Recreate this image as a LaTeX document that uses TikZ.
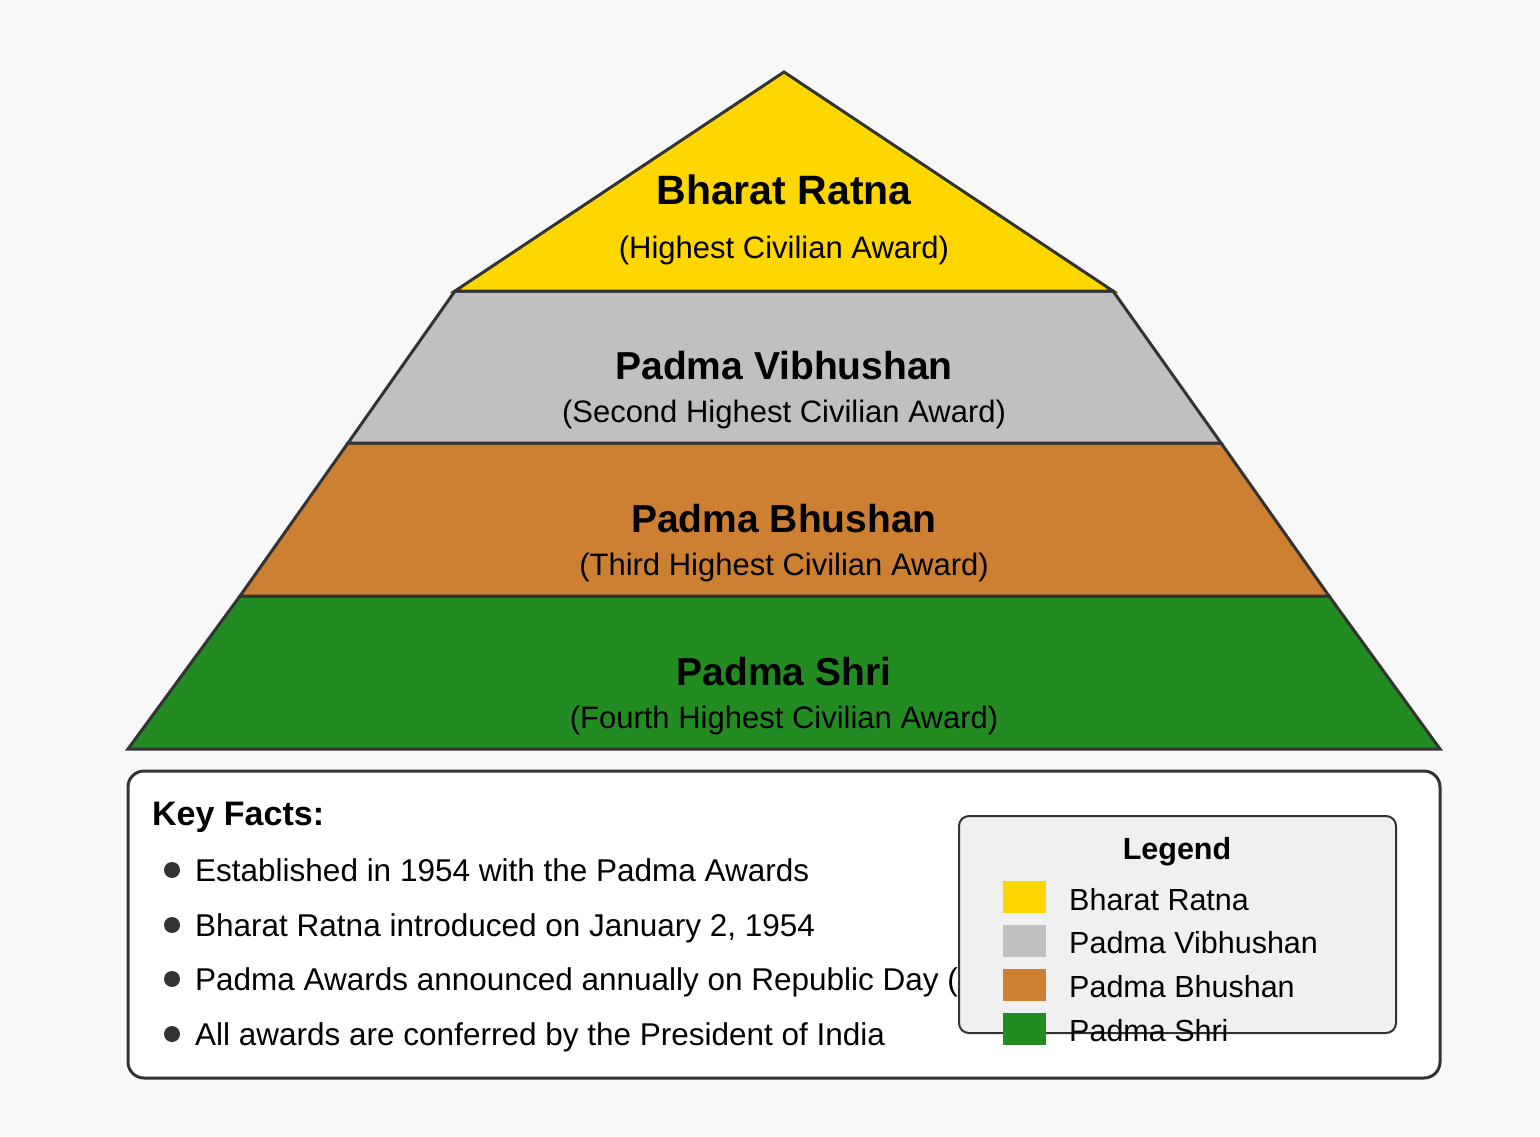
\documentclass[tikz,border=0pt]{standalone}
\usepackage{fontspec}
\setmainfont{Liberation Sans}
\usetikzlibrary{positioning}
\definecolor{pagebg}{HTML}{F8F8F8}
\definecolor{edge}{HTML}{333333}
\definecolor{gold}{HTML}{FFD700}
\definecolor{silver}{HTML}{C0C0C0}
\definecolor{bronze}{HTML}{CD7F32}
\definecolor{forest}{HTML}{228B22}
\definecolor{legendbg}{HTML}{F0F0F0}

\begin{document}
\begin{tikzpicture}[x=1pt,y=-1pt,
  tier/.style={draw=edge,line width=3pt},
  tiername/.style={anchor=base,font=\fontsize{39}{46}\selectfont\bfseries},
  tiernote/.style={anchor=base,font=\fontsize{31}{37}\selectfont},
  fact/.style={anchor=base west,inner sep=0pt,font=\fontsize{31.5}{37}\selectfont},
  factdot/.style={circle,fill=edge,minimum size=16pt,inner sep=0pt},
  swatch/.style={minimum width=43pt,minimum height=32pt,inner sep=0pt},
  keyname/.style={anchor=base west,inner sep=0pt,font=\fontsize{30.5}{36}\selectfont}]
\fill[pagebg] (0,0) rectangle (1540,1136);
% pyramid corners
\coordinate (apex) at (784,72);
\coordinate (l1) at (455,291); \coordinate (r1) at (1113,291);
\coordinate (l2) at (348,443); \coordinate (r2) at (1221,443);
\coordinate (l3) at (240,596); \coordinate (r3) at (1329,596);
\coordinate (l4) at (128,749); \coordinate (r4) at (1440,749);
\filldraw[tier,fill=forest] (l3)--(r3)--(r4)--(l4)--cycle;
\filldraw[tier,fill=bronze] (l2)--(r2)--(r3)--(l3)--cycle;
\filldraw[tier,fill=silver] (l1)--(r1)--(r2)--(l2)--cycle;
\filldraw[tier,fill=gold] (apex)--(r1)--(l1)--cycle;
\node[tiername,font=\fontsize{41}{48}\selectfont\bfseries] (ratna) at (784,204) {Bharat Ratna};
\node[tiernote] (ratnanote) at (784,258) {(Highest Civilian Award)};
\node[tiername] (vibhushan) at (784,379) {Padma Vibhushan};
\node[tiernote] (vibhushannote) at (784,422) {(Second Highest Civilian Award)};
\node[tiername] (bhushan) at (784,532) {Padma Bhushan};
\node[tiernote] (bhushannote) at (784,575) {(Third Highest Civilian Award)};
\node[tiername] (shri) at (784,685) {Padma Shri};
\node[tiernote] (shrinote) at (784,728) {(Fourth Highest Civilian Award)};
% key facts panel
\draw[draw=edge,fill=white,line width=3pt,rounded corners=16pt] (128,771) rectangle (1440,1078);
\node[anchor=base west,inner sep=0pt,font=\fontsize{34}{40}\selectfont\bfseries] (facts) at (152,825) {Key Facts:};
\node[factdot] (dot1) at (172,870) {};
\node[fact] (fact1) at (195,881) {Established in 1954 with the Padma Awards};
\node[factdot] (dot2) at (172,925) {};
\node[fact] (fact2) at (195,936) {Bharat Ratna introduced on January 2, 1954};
\node[factdot] (dot3) at (172,979) {};
\node[fact] (fact3) at (195,990) {Padma Awards announced annually on Republic Day (J};
\node[factdot] (dot4) at (172,1034) {};
\node[fact] (fact4) at (195,1045) {All awards are conferred by the President of India};
% legend
\draw[draw=edge,fill=legendbg,line width=2pt,rounded corners=10pt] (959,816) rectangle (1396,1033);
\node[anchor=base,font=\fontsize{30.5}{36}\selectfont\bfseries] (legend) at (1177,859) {Legend};
\node[swatch,fill=gold] (key1) at (1024.5,897) {};
\node[keyname] (keyname1) at (1069,910) {Bharat Ratna};
\node[swatch,fill=silver] (key2) at (1024.5,941) {};
\node[keyname] (keyname2) at (1069,953) {Padma Vibhushan};
\node[swatch,fill=bronze] (key3) at (1024.5,985) {};
\node[keyname] (keyname3) at (1069,997) {Padma Bhushan};
\node[swatch,fill=forest] (key4) at (1024.5,1029) {};
\node[keyname] (keyname4) at (1069,1041) {Padma Shri};
\end{tikzpicture}
\end{document}
